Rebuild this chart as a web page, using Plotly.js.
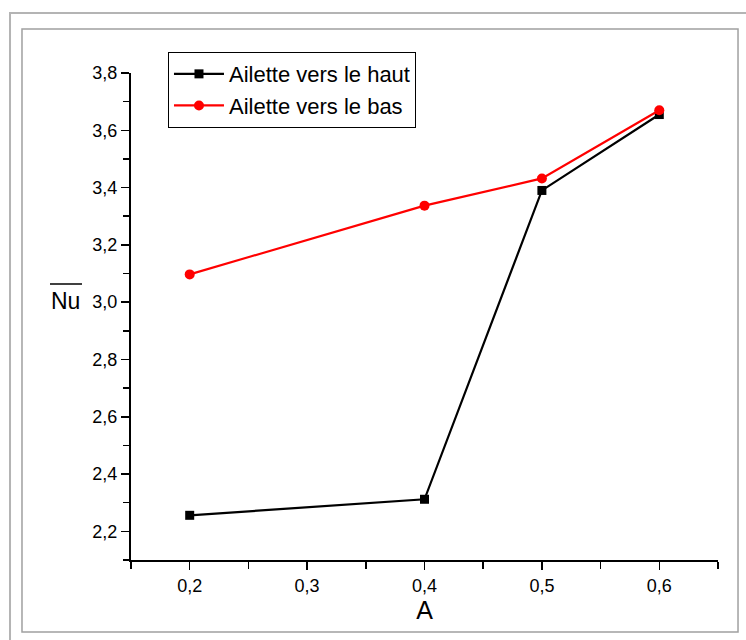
<!DOCTYPE html>
<html>
<head>
<meta charset="utf-8">
<script src="https://cdn.plot.ly/plotly-3.0.1.min.js"></script>
<style>html,body{margin:0;padding:0;background:#fff;}#chart{width:746px;height:640px;}</style>
</head>
<body>
<div id="chart"></div>
<script>
const A = [0.2, 0.4, 0.5, 0.6];
const nuHaut = [2.256, 2.312, 3.39, 3.655];
const nuBas = [3.097, 3.337, 3.432, 3.67];
const seriesNames = ["Ailette vers le haut", "Ailette vers le bas"];
const xTickVals = [0.2, 0.3, 0.4, 0.5, 0.6];
const xTickText = ["0,2", "0,3", "0,4", "0,5", "0,6"];
const yTickVals = [2.2, 2.4, 2.6, 2.8, 3.0, 3.2, 3.4, 3.6, 3.8];
const yTickText = ["2,2", "2,4", "2,6", "2,8", "3,0", "3,2", "3,4", "3,6", "3,8"];

const font = "Arial, 'Liberation Sans', sans-serif";

const traces = [
  {x: A, y: nuHaut, name: seriesNames[0], mode: "lines+markers",
   line: {color: "#000000", width: 2.2}, marker: {symbol: "square", size: 9, color: "#000000"}},
  {x: A, y: nuBas, name: seriesNames[1], mode: "lines+markers",
   line: {color: "#ff0000", width: 2.2}, marker: {symbol: "circle", size: 10, color: "#ff0000"}}
];

const layout = {
  width: 746, height: 640,
  margin: {l: 131, r: 28, t: 73, b: 80},
  paper_bgcolor: "#ffffff", plot_bgcolor: "#ffffff",
  font: {family: font, color: "#000", size: 18},
  showlegend: true,
  legend: {x: 0.063, y: 1.043, xanchor: "left", yanchor: "top",
           bordercolor: "#000", borderwidth: 1, bgcolor: "#fff", itemwidth: 50,
           font: {family: font, size: 22, color: "#000"}},
  xaxis: {range: [0.15, 0.65], tickvals: xTickVals, ticktext: xTickText,
          showgrid: false, zeroline: false, showline: true, linecolor: "#000", linewidth: 2,
          ticks: "outside", ticklen: 8, tickwidth: 1.5, tickcolor: "#000",
          tickfont: {family: font, size: 18, color: "#000"},
          minor: {dtick: 0.05, tick0: 0.15, ticks: "outside", ticklen: 7, tickwidth: 1.5, tickcolor: "#000", showgrid: false},
          title: {text: "A", font: {family: font, size: 25, color: "#000"}, standoff: 4}},
  yaxis: {range: [2.1, 3.8], tickvals: yTickVals, ticktext: yTickText,
          showgrid: false, zeroline: false, showline: true, linecolor: "#000", linewidth: 2,
          ticks: "outside", ticklen: 8, tickwidth: 1.5, tickcolor: "#000",
          tickfont: {family: font, size: 18, color: "#000"},
          minor: {dtick: 0.1, tick0: 2.1, ticks: "outside", ticklen: 6, tickwidth: 1.5, tickcolor: "#000", showgrid: false}},
  annotations: [
    {xref: "paper", yref: "paper", x: -0.111, y: 0.532, xanchor: "center", yanchor: "middle",
     text: "Nu", showarrow: false, font: {family: font, size: 23, color: "#000"}}
  ],
  shapes: [
    {type: "rect", xref: "paper", yref: "paper", x0: -0.2061, x1: 1.08, y0: -0.2, y1: 1.1232,
     line: {color: "#b4b4b4", width: 2}, layer: "below"},
    {type: "rect", xref: "paper", yref: "paper", x0: -0.1857, x1: 1.0341, y0: -0.1478, y1: 1.0903,
     line: {color: "#a0a0a0", width: 1.5}, layer: "below"},
    {type: "line", xref: "paper", yref: "paper", x0: -0.138, x1: -0.0835, y0: 0.5667, y1: 0.5667,
     line: {color: "#000", width: 1.5}}
  ]
};

Plotly.newPlot("chart", traces, layout, {displayModeBar: false, staticPlot: true});
</script>
</body>
</html>
